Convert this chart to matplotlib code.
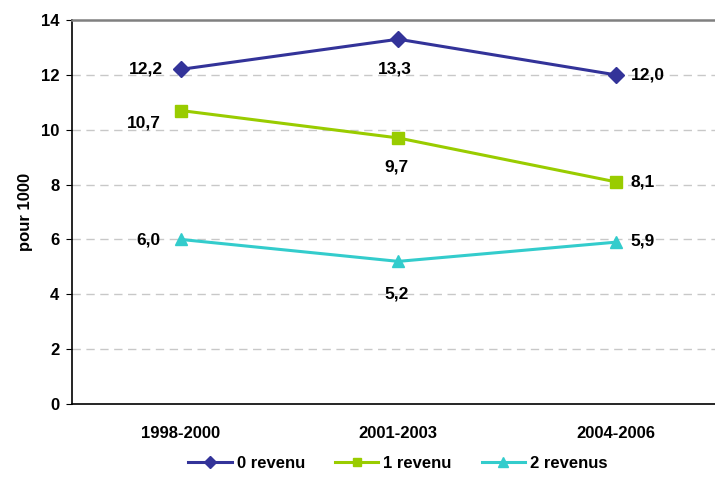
import matplotlib.pyplot as plt

periods = ["1998-2000", "2001-2003", "2004-2006"]
rev0 = [12.2, 13.3, 12.0]
rev1 = [10.7, 9.7, 8.1]
rev2 = [6.0, 5.2, 5.9]
series_names = ["0 revenu", "1 revenu", "2 revenus"]

plt.rcParams['font.family'] = ['Liberation Sans', 'DejaVu Sans']
plt.rcParams['font.weight'] = 'bold'

fig = plt.figure(figsize=(7.15, 4.86), dpi=100)
ax = fig.add_axes([72 / 715, 82 / 486, 652.5 / 715, 384 / 486])

x = list(range(len(periods)))
ax.plot(x, rev0, color='#333399', marker='D', markersize=8, lw=2.2, label=series_names[0], zorder=3)
ax.plot(x, rev1, color='#99CC00', marker='s', markersize=8, lw=2.2, label=series_names[1], zorder=3)
ax.plot(x, rev2, color='#33CCCC', marker='^', markersize=9, lw=2.2, label=series_names[2], zorder=3)

def fmt(v):
    return f"{v:.1f}".replace('.', ',')

# label offsets in pixels (dx, dy, ha) for each series / point
offsets = [
    [(-18, 0, 'right'), (-3, -30, 'center'), (15, 0, 'left')],
    [(-20, -12, 'right'), (-2, -29, 'center'), (15, 0, 'left')],
    [(-20, -1, 'right'), (-2, -33, 'center'), (15, 1, 'left')],
]
for vals, offs in zip((rev0, rev1, rev2), offsets):
    for i, (v, (dx, dy, ha)) in enumerate(zip(vals, offs)):
        ax.annotate(fmt(v), (i, v), xytext=(dx, dy), textcoords='offset pixels',
                    ha=ha, va='center', fontsize=12.5, fontweight='bold')

ax.set_xlim(-0.5, 2.5)
ax.set_ylim(0, 14)
ax.set_yticks(range(0, 15, 2))
ax.set_xticks(x)
ax.set_xticklabels(periods, fontsize=12, fontweight='bold')
ax.tick_params(axis='x', length=0, pad=16)
ax.tick_params(axis='y', length=4, direction='out', labelsize=12, pad=5)
for lbl in ax.get_yticklabels():
    lbl.set_fontweight('bold')

for y in range(2, 14, 2):
    ax.axhline(y, color='#c8c8c8', lw=1, ls=(0, (6, 4)), zorder=1)

ax.spines['top'].set_color('#808080')
ax.spines['top'].set_linewidth(1.8)
ax.spines['right'].set_visible(False)
ax.spines['left'].set_linewidth(1.2)
ax.spines['bottom'].set_linewidth(1.2)

ax.set_ylabel('pour 1000', fontsize=12, fontweight='bold')
ax.yaxis.set_label_coords(-39 / 652.5, 0.5)

fig.legend(loc='center', bbox_to_anchor=(398 / 715, 1 - 463 / 486), ncol=3, frameon=False,
           handlelength=2.6, columnspacing=1.8, handletextpad=0.3, markerscale=0.75,
           prop={'weight': 'bold', 'size': 12})

fig.savefig('out.png', dpi=100)
